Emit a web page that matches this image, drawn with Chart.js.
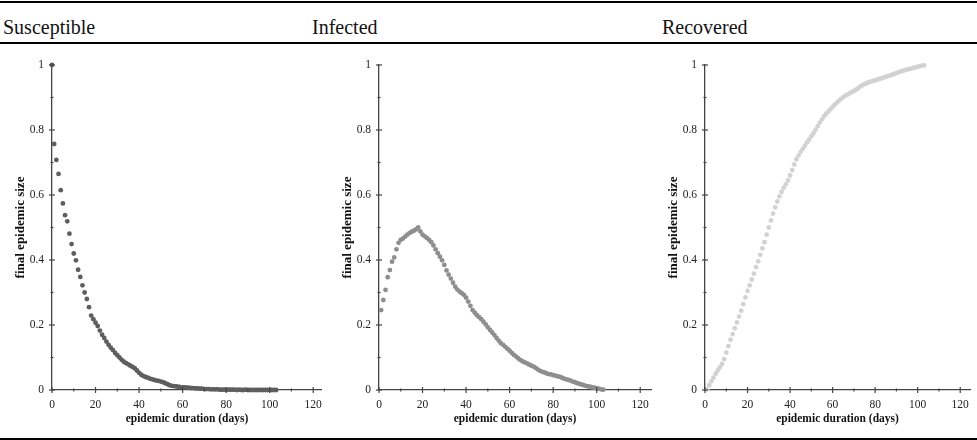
<!DOCTYPE html>
<html>
<head>
<meta charset="utf-8">
<script src="https://cdn.jsdelivr.net/npm/chart.js@4.4.1/dist/chart.umd.min.js"></script>
<style>
  body { margin: 0; background: #fff; }
  #page { position: relative; width: 977px; height: 440px; overflow: hidden; background: #fff; }
  .rule { position: absolute; left: 0; width: 977px; background: #000; }
  .head { position: absolute; top: 15px; font-family: "Liberation Serif", serif; font-size: 20px; color: #111; line-height: 24px; }
  canvas { position: absolute; top: 50px; }
</style>
</head>
<body>
<div id="page">
  <div class="rule" style="top:1px;height:2px"></div>
  <div class="head" style="left:3px">Susceptible</div>
  <div class="head" style="left:312px">Infected</div>
  <div class="head" style="left:662px">Recovered</div>
  <div class="rule" style="top:42px;height:2px"></div>
  <canvas id="chart-s" width="330" height="385" style="left:0px"></canvas>
  <canvas id="chart-i" width="330" height="385" style="left:327px"></canvas>
  <canvas id="chart-r" width="324" height="385" style="left:653px"></canvas>
  <div class="rule" style="top:438px;height:2px"></div>
</div>
<script>
// panel titles
const panelNames = ["Susceptible", "Infected", "Recovered"];

// tick labels
const xTicks = [0, 20, 40, 60, 80, 100, 120];
const xMinorTicks = [10, 30, 50, 70, 90, 110];
const yTicks = [0, 0.2, 0.4, 0.6, 0.8, 1];
const yMinorTicks = [0.1, 0.3, 0.5, 0.7, 0.9];

// fraction of population per day
const firstDayS = 0;
const susceptible = [
  1.0, 0.757, 0.708, 0.665, 0.615, 0.574, 0.538, 0.519, 0.481, 0.449,
  0.420, 0.399, 0.370, 0.348, 0.322, 0.300, 0.280, 0.255, 0.229, 0.218,
  0.207, 0.197, 0.183, 0.170, 0.160, 0.149, 0.139, 0.130, 0.123, 0.114,
  0.107, 0.100, 0.093, 0.087, 0.083, 0.079, 0.075, 0.071, 0.067, 0.060,
  0.053, 0.047, 0.043, 0.040, 0.038, 0.035, 0.033, 0.031, 0.029, 0.028,
  0.026, 0.024, 0.021, 0.018, 0.015, 0.013, 0.012, 0.011, 0.010, 0.009,
  0.008, 0.008, 0.007, 0.007, 0.006, 0.006, 0.005, 0.005, 0.004, 0.004,
  0.003, 0.003, 0.003, 0.002, 0.002, 0.002, 0.002, 0.001, 0.001, 0.001,
  0.001, 0.001, 0.001, 0.001, 0.001, 0.0, 0.001, 0.0, 0.0, 0.001,
  0.0, 0.0, 0.0, 0.0, 0.0, 0.0, 0.0, 0.0, 0.0, 0.0,
  0.0, 0.0, 0.0, 0.0
];

const firstDayI = 1;
const infected = [
  0.246, 0.277, 0.308, 0.347, 0.369, 0.395, 0.408, 0.433, 0.453, 0.462,
  0.466, 0.472, 0.478, 0.483, 0.487, 0.490, 0.494, 0.500, 0.488, 0.478,
  0.473, 0.468, 0.462, 0.455, 0.445, 0.433, 0.421, 0.410, 0.399, 0.385,
  0.368, 0.355, 0.343, 0.330, 0.318, 0.309, 0.303, 0.298, 0.293, 0.284,
  0.272, 0.259, 0.246, 0.238, 0.230, 0.224, 0.218, 0.210, 0.202, 0.193,
  0.185, 0.177, 0.169, 0.160, 0.152, 0.144, 0.139, 0.133, 0.127, 0.121,
  0.114, 0.108, 0.103, 0.097, 0.092, 0.088, 0.085, 0.082, 0.078, 0.075,
  0.072, 0.068, 0.063, 0.059, 0.056, 0.054, 0.051, 0.049, 0.048, 0.046,
  0.044, 0.042, 0.041, 0.038, 0.035, 0.033, 0.031, 0.029, 0.026, 0.024,
  0.021, 0.019, 0.017, 0.015, 0.013, 0.011, 0.010, 0.008, 0.007, 0.005,
  0.004, 0.002, 0.001
];

const firstDayR = 1;
const recovered = [
  0.002, 0.015, 0.027, 0.038, 0.050, 0.060, 0.070, 0.080, 0.095, 0.115,
  0.135, 0.155, 0.172, 0.190, 0.208, 0.226, 0.244, 0.264, 0.285, 0.305,
  0.322, 0.340, 0.358, 0.378, 0.396, 0.416, 0.436, 0.455, 0.478, 0.500,
  0.522, 0.543, 0.562, 0.580, 0.596, 0.610, 0.622, 0.633, 0.645, 0.660,
  0.677, 0.694, 0.710, 0.722, 0.733, 0.742, 0.752, 0.762, 0.771, 0.781,
  0.790, 0.801, 0.812, 0.823, 0.833, 0.843, 0.850, 0.857, 0.864, 0.871,
  0.878, 0.884, 0.890, 0.896, 0.901, 0.906, 0.909, 0.913, 0.917, 0.920,
  0.924, 0.928, 0.934, 0.938, 0.941, 0.944, 0.947, 0.949, 0.951, 0.953,
  0.955, 0.957, 0.959, 0.961, 0.964, 0.966, 0.968, 0.970, 0.973, 0.975,
  0.978, 0.980, 0.982, 0.984, 0.986, 0.988, 0.989, 0.991, 0.993, 0.995,
  0.996, 0.998, 0.999
];

const axisColor = "#444";
const tickFont = { family: "Liberation Serif", size: 11.5 };
const xTitleFont = { family: "Liberation Serif", size: 11.5, weight: "bold" };
const yTitleFont = { family: "Liberation Serif", size: 13, weight: "bold" };

// small crossing tick marks, major and minor
const axisTicks = {
  id: "axisTicks",
  afterDraw(chart) {
    const { ctx, chartArea, scales } = chart;
    ctx.save();
    ctx.strokeStyle = axisColor;
    ctx.lineWidth = 1.2;
    const mark = (x1, y1, x2, y2) => {
      ctx.beginPath();
      ctx.moveTo(x1, y1);
      ctx.lineTo(x2, y2);
      ctx.stroke();
    };
    xTicks.forEach((v) => {
      const px = scales.x.getPixelForValue(v);
      mark(px, chartArea.bottom - 3, px, chartArea.bottom + 3);
    });
    xMinorTicks.forEach((v) => {
      const px = scales.x.getPixelForValue(v);
      mark(px, chartArea.bottom - 1.5, px, chartArea.bottom + 1.5);
    });
    yTicks.forEach((v) => {
      const py = scales.y.getPixelForValue(v);
      mark(chartArea.left - 3, py, chartArea.left + 3, py);
    });
    yMinorTicks.forEach((v) => {
      const py = scales.y.getPixelForValue(v);
      mark(chartArea.left - 1.5, py, chartArea.left + 1.5, py);
    });
    ctx.restore();
  },
};

function toPoints(values, firstDay) {
  return values.map((v, i) => ({ x: firstDay + i, y: v }));
}

function makePanel(id, values, firstDay, color, xMax, padRight) {
  const ctx = document.getElementById(id).getContext("2d");
  return new Chart(ctx, {
    type: "scatter",
    data: {
      datasets: [
        {
          data: toPoints(values, firstDay),
          backgroundColor: color,
          borderColor: color,
          pointRadius: 2.4,
          pointBorderWidth: 0,
          clip: false,
        },
      ],
    },
    options: {
      responsive: false,
      animation: false,
      layout: { padding: { top: 15, right: padRight, left: 0, bottom: 0 } },
      plugins: { legend: { display: false }, tooltip: { enabled: false } },
      scales: {
        x: {
          type: "linear",
          min: 0,
          max: xMax,
          afterBuildTicks: (scale) => {
            scale.ticks = xTicks.map((v) => ({ value: v }));
          },
          afterFit: (scale) => {
            scale.height = 45;
          },
          grid: { display: false, drawTicks: false },
          border: { color: axisColor, width: 1.3 },
          ticks: { font: tickFont, color: "#222", padding: 8, maxRotation: 0 },
          title: {
            display: true,
            text: "epidemic duration (days)",
            font: xTitleFont,
            color: "#111",
            padding: { top: 0, bottom: 9 },
          },
        },
        y: {
          min: 0,
          max: 1,
          afterBuildTicks: (scale) => {
            scale.ticks = yTicks.map((v) => ({ value: v }));
          },
          afterFit: (scale) => {
            scale.width = 52;
          },
          grid: { display: false, drawTicks: false },
          border: { color: axisColor, width: 1.3 },
          ticks: {
            font: tickFont,
            color: "#222",
            padding: 8,
            callback: (v) => String(v),
          },
          title: {
            display: true,
            text: "final epidemic size",
            font: yTitleFont,
            color: "#111",
            padding: { top: 13, bottom: 0 },
          },
        },
      },
    },
    plugins: [axisTicks],
  });
}

makePanel("chart-s", susceptible, firstDayS, "#5e5e5e", 124, 5);
makePanel("chart-i", infected, firstDayI, "#8e8e8e", 125, 4);
makePanel("chart-r", recovered, firstDayR, "#d2d2d2", 124.6, 0);
</script>
</body>
</html>
